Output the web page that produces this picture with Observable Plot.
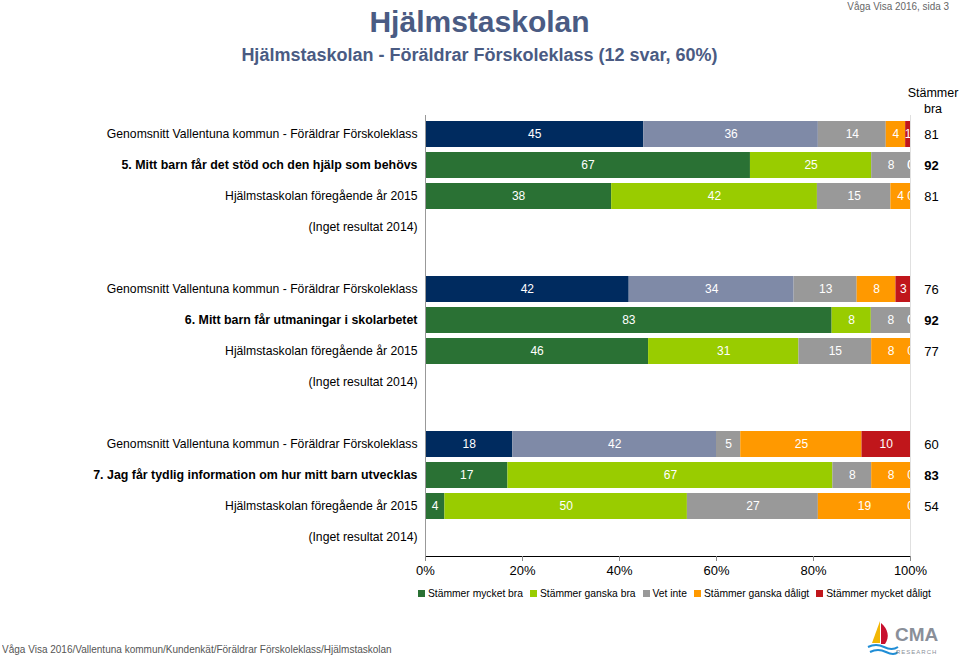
<!DOCTYPE html>
<html><head><meta charset="utf-8">
<script src="https://cdn.jsdelivr.net/npm/d3@7"></script>
<script src="https://cdn.jsdelivr.net/npm/@observablehq/plot@0.6"></script>
<style>
body{margin:0;width:959px;height:658px;position:relative;background:#fff;font-family:"Liberation Sans",Arial,sans-serif;overflow:hidden}
.abs{position:absolute;white-space:nowrap}
#chart{position:absolute;left:0;top:0}
#chart svg [aria-label="x-axis tick"], #chart svg [aria-label="x-axis line"]{stroke:#888}
#legend{position:absolute;left:418px;top:577px;width:560px}
#legend span[class$="-swatch"]{margin-right:7px !important}
#legend span[class$="-swatch"] > svg{margin-right:3px !important}
</style></head><body>
<div class="abs" style="right:10px;top:0px;font-size:11px;color:#666;transform:scaleX(0.9);transform-origin:right">Våga Visa 2016, sida 3</div>
<div class="abs" style="left:0;width:959px;top:5px;text-align:center;font-size:30px;font-weight:bold;color:#4a5b83">Hjälmstaskolan</div>
<div class="abs" style="left:0;width:959px;top:45px;text-align:center;font-size:18px;font-weight:bold;color:#4a5b83">Hjälmstaskolan - Föräldrar Förskoleklass (12 svar, 60%)</div>
<div class="abs" style="left:903px;width:60px;top:85px;text-align:center;font-size:12.5px;line-height:16px;color:#000">Stämmer<br>bra</div>
<div id="chart"></div>
<div id="legend"></div>
<div class="abs" style="left:2px;top:643px;font-size:11px;color:#555;transform:scaleX(0.91);transform-origin:left">Våga Visa 2016/Vallentuna kommun/Kundenkät/Föräldrar Förskoleklass/Hjälmstaskolan</div>
<svg class="abs" style="left:866px;top:617px" width="86" height="40" viewBox="0 0 86 40">
  <path d="M14 4 L6 26 L14 26 Z" fill="#f2b705"/>
  <path d="M15 6 C22 12 24 20 19 27 L15 27 Z" fill="#c8102e"/>
  <path d="M2 30 Q10 26 18 30 T32 30" stroke="#1f8dd6" stroke-width="2" fill="none"/>
  <path d="M4 35 Q12 31 20 35 T32 35" stroke="#1f8dd6" stroke-width="2" fill="none"/>
  <text x="29" y="24" font-size="19" font-weight="bold" fill="#8a8f99" font-family="Liberation Sans, Arial">CMA</text>
  <text x="30" y="37" font-size="6" fill="#8a8f99" font-family="Liberation Sans, Arial" letter-spacing="1">RESEARCH</text>
</svg>
<script>
const categories = ["Stämmer mycket bra", "Stämmer ganska bra", "Vet inte", "Stämmer ganska dåligt", "Stämmer mycket dåligt"];
const questions = [
  "5. Mitt barn får det stöd och den hjälp som behövs",
  "6. Mitt barn får utmaningar i skolarbetet",
  "7. Jag får tydlig information om hur mitt barn utvecklas"
];
const avgLabel = "Genomsnitt Vallentuna kommun - Föräldrar Förskoleklass";
const prevLabel = "Hjälmstaskolan föregående år 2015";
const noneLabel = "(Inget resultat 2014)";
const avgValues = [[45, 36, 14, 4, 1], [42, 34, 13, 8, 3], [18, 42, 5, 25, 10]];
const schoolValues = [[67, 25, 8, 0, 0], [83, 8, 8, 0, 0], [17, 67, 8, 8, 0]];
const prevValues = [[38, 42, 15, 4, 0], [46, 31, 15, 8, 0], [4, 50, 27, 19, 0]];
const stammerBra = [[81, 92, 81], [76, 92, 77], [60, 83, 54]];
const xTicks = [0, 0.2, 0.4, 0.6, 0.8, 1];

const avgColors = ["#002b5f", "#7f8aa7", "#999999", "#ff9900", "#c0161b"];
const schoolColors = ["#2a7134", "#99cc00", "#999999", "#ff9900", "#c0161b"];

const rowIds = [];
const labelRows = [];
const questionRows = [];
const segments = [];
const brRows = [];
const brBold = [];
questions.forEach((q, g) => {
  const ids = [g + "a", g + "b", g + "c", g + "d"];
  rowIds.push(...ids);
  if (g < questions.length - 1) rowIds.push(g + "gap");
  labelRows.push({id: ids[0], label: avgLabel}, {id: ids[2], label: prevLabel}, {id: ids[3], label: noneLabel});
  questionRows.push({id: ids[1], label: q});
  [[ids[0], "avg", avgValues[g]], [ids[1], "school", schoolValues[g]], [ids[2], "school", prevValues[g]]].forEach(([id, type, vals]) => {
    vals.forEach((v, i) => segments.push({row: id, key: type + "|" + categories[i], value: v}));
  });
  brRows.push({id: ids[0], v: stammerBra[g][0]}, {id: ids[2], v: stammerBra[g][2]});
  brBold.push({id: ids[1], v: stammerBra[g][1]});
});
const colorKeys = [...categories.map(c => "avg|" + c), ...categories.map(c => "school|" + c)];
const colorRange = [...avgColors, ...schoolColors];

const chart = Plot.plot({
  width: 959, height: 585,
  marginTop: 115, marginBottom: 29, marginLeft: 425, marginRight: 49,
  style: {fontFamily: "Liberation Sans, Arial, sans-serif", fontSize: "13px", color: "#000", background: "transparent", overflow: "visible"},
  x: {domain: [0, 1], ticks: xTicks, tickFormat: d3.format(".0%"), line: true, tickSize: 5, tickPadding: 4, label: null},
  y: {domain: rowIds, axis: null, paddingInner: 0.175, paddingOuter: 0.095},
  color: {domain: colorKeys, range: colorRange},
  marks: [
    Plot.ruleX([1], {stroke: "#e0e0e0"}),
    Plot.barX(segments, Plot.stackX({x: "value", y: "row", fill: "key", order: null, offset: "normalize"})),
    Plot.text(segments, Plot.stackX({x: "value", y: "row", text: d => String(d.value), fill: "white", order: null, offset: "normalize", clip: true, fontSize: 12})),
    Plot.ruleX([0], {stroke: "#999"}),
    Plot.text(labelRows, {y: "id", text: "label", frameAnchor: "left", textAnchor: "end", dx: -8, fontSize: 12.2}),
    Plot.text(questionRows, {y: "id", text: "label", frameAnchor: "left", textAnchor: "end", dx: -8, fontWeight: "bold", fontSize: 12.4}),
    Plot.text(brRows, {y: "id", text: d => String(d.v), frameAnchor: "right", textAnchor: "middle", dx: 21}),
    Plot.text(brBold, {y: "id", text: d => String(d.v), frameAnchor: "right", textAnchor: "middle", dx: 21, fontWeight: "bold"})
  ]
});
document.getElementById("chart").append(chart);

const legend = Plot.legend({
  color: {domain: categories, range: schoolColors},
  legend: "swatches", swatchSize: 7,
  style: {fontFamily: "Liberation Sans, Arial, sans-serif", fontSize: "10.3px", color: "#000"}
});
document.getElementById("legend").append(legend);
</script>
</body></html>
